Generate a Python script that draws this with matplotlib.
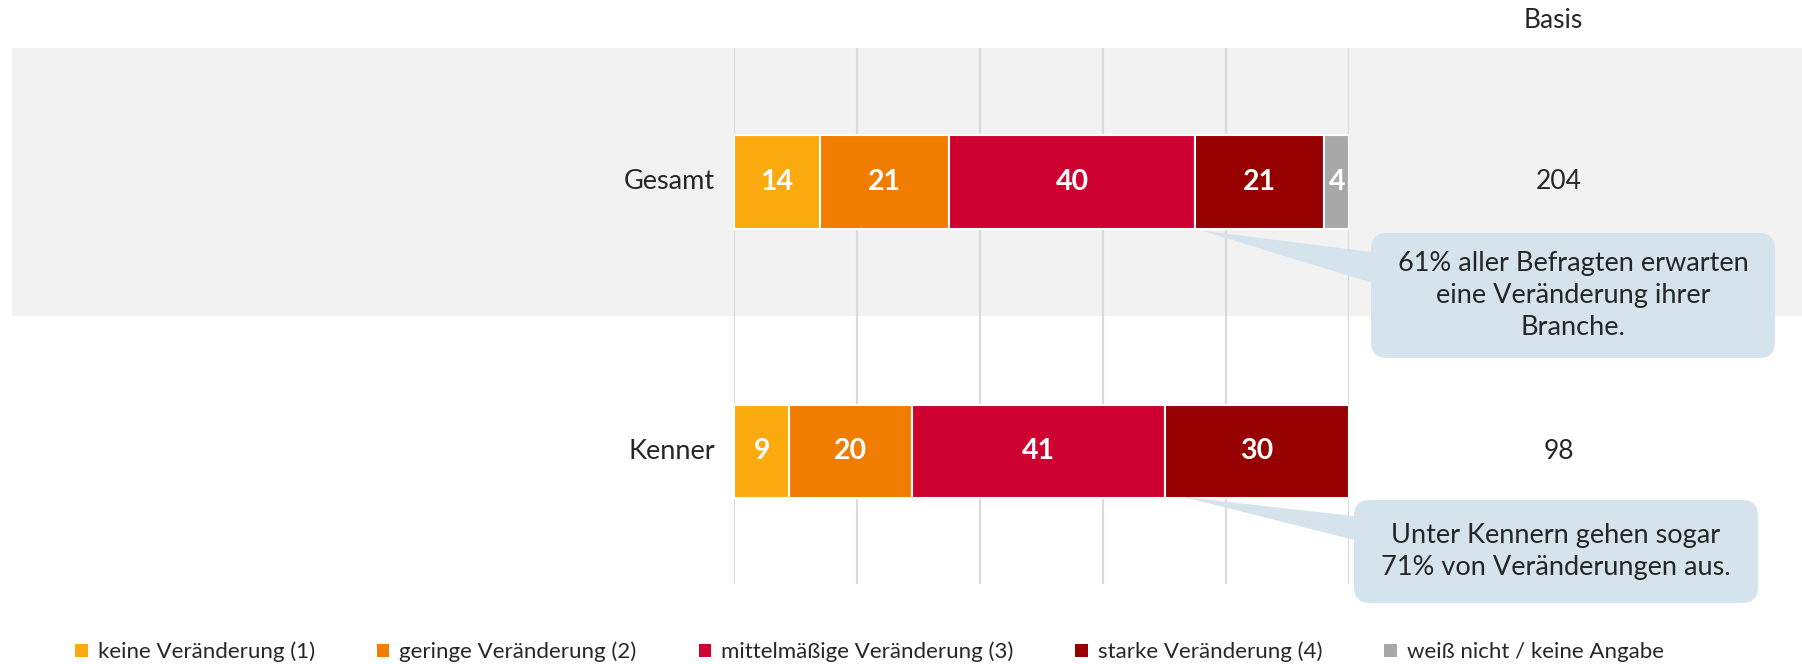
import matplotlib
matplotlib.use('Agg')
import matplotlib.pyplot as plt
from matplotlib.patches import FancyBboxPatch, Polygon, Rectangle, Patch
import matplotlib.transforms as mtransforms

plt.rcParams['font.family'] = ['Lato', 'DejaVu Sans']

# ---------------- data ----------------
categories = ['Gesamt', 'Kenner']
series_names = ['keine Veränderung (1)', 'geringe Veränderung (2)',
                'mittelmäßige Veränderung (3)', 'starke Veränderung (4)',
                'weiß nicht / keine Angabe']
keine = [14, 9]
geringe = [21, 20]
mittel = [40, 41]
stark = [21, 30]
weiss_nicht = [4, 0]
basis = [204, 98]
basis_title = 'Basis'
callout_texts = ['61% aller Befragten erwarten\neine Veränderung ihrer\nBranche.',
                 'Unter Kennern gehen sogar\n71% von Veränderungen aus.']

colors = ['#FBAA0E', '#F07D00', '#CE0230', '#960000', '#A8A8A8']
text_color = '#262626'
callout_color = '#D5E3ED'

# ---------------- figure ----------------
W, H = 1802, 664
fig = plt.figure(figsize=(W / 100, H / 100), dpi=100)
fig.patch.set_facecolor('white')

ax = fig.add_axes([734 / W, 1 - 584 / H, 615 / W, 536 / H])
ax.set_xlim(0, 100)
ax.set_ylim(1.494, -0.498)
ax.patch.set_alpha(0)
for s in ax.spines.values():
    s.set_visible(False)
ax.set_xticks([])
ax.set_yticks([])

# background band for first row
blend = mtransforms.blended_transform_factory(fig.transFigure, ax.transData)
band = Rectangle((11.5 / W, -0.498), 1 - 11.5 / W, 0.996, transform=blend,
                 facecolor='#F2F2F2', edgecolor='none', zorder=-5)
fig.add_artist(band)

# gridlines
ax.vlines(range(0, 101, 20), -0.498, 1.494, color='#D9D9D9', lw=1.5, zorder=1)

series = [keine, geringe, mittel, stark, weiss_nicht]
ypos = list(range(len(categories)))
lefts = [0] * len(categories)
for vals, col in zip(series, colors):
    for i, v in enumerate(vals):
        if v > 0:
            ax.barh(ypos[i], v, left=lefts[i], height=0.346, color=col,
                    edgecolor='white', lw=1.5, zorder=2)
            ax.text(lefts[i] + v / 2, ypos[i], str(v), ha='center', va='center',
                    color='white', fontsize=20.5, fontweight='bold', zorder=3)
        lefts[i] += v

for i, cat in enumerate(categories):
    ax.text(-3.1, ypos[i], cat, ha='right', va='center', fontsize=19.5,
            color=text_color, clip_on=False)
    ax.text(134.1, ypos[i], str(basis[i]), ha='center', va='center',
            fontsize=19, color=text_color, clip_on=False)
ax.text(133.2, -0.602, basis_title, ha='center', va='center', fontsize=19,
        color=text_color, clip_on=False)

# overlay axes in pixel coordinates for callouts
ov = fig.add_axes([0, 0, 1, 1])
ov.set_xlim(0, W)
ov.set_ylim(H, 0)
ov.axis('off')
ov.patch.set_alpha(0)


def data_to_px(x, y):
    dx, dy = ax.transData.transform((x, y))
    return dx, H - dy


callouts = [
    dict(box=(1371, 233, 1775, 358), apex=(76, 0.18), base=(253, 285), text=callout_texts[0]),
    dict(box=(1354, 500, 1758, 603), apex=(73, 1.17), base=(517, 542), text=callout_texts[1]),
]
for c in callouts:
    x0, y0, x1, y1 = c['box']
    ax_, ay_ = data_to_px(*c['apex'])
    poly = Polygon([(ax_, ay_), (x0 + 8, c['base'][0]), (x0 + 8, c['base'][1])],
                   closed=True, facecolor=callout_color, edgecolor='none', zorder=4)
    ov.add_patch(poly)
    box = FancyBboxPatch((x0, y0), x1 - x0, y1 - y0,
                         boxstyle='round,pad=0,rounding_size=16',
                         facecolor=callout_color, edgecolor='none', zorder=4)
    ov.add_patch(box)
    ov.text((x0 + x1) / 2, (y0 + y1) / 2, c['text'], ha='center', va='center',
            fontsize=19.5, color=text_color, linespacing=1.33, zorder=5)

# legend
handles = [Patch(facecolor=c, edgecolor='none') for c in colors]
fig.legend(handles, series_names, loc='center', bbox_to_anchor=(869.5 / W, 1 - 652 / H),
           ncol=5, frameon=False, fontsize=16, handlelength=0.55, handleheight=0.55,
           handletextpad=0.45, columnspacing=2.8, borderpad=0, borderaxespad=0,
           labelcolor=text_color)

fig.savefig('out.png', dpi=100)
